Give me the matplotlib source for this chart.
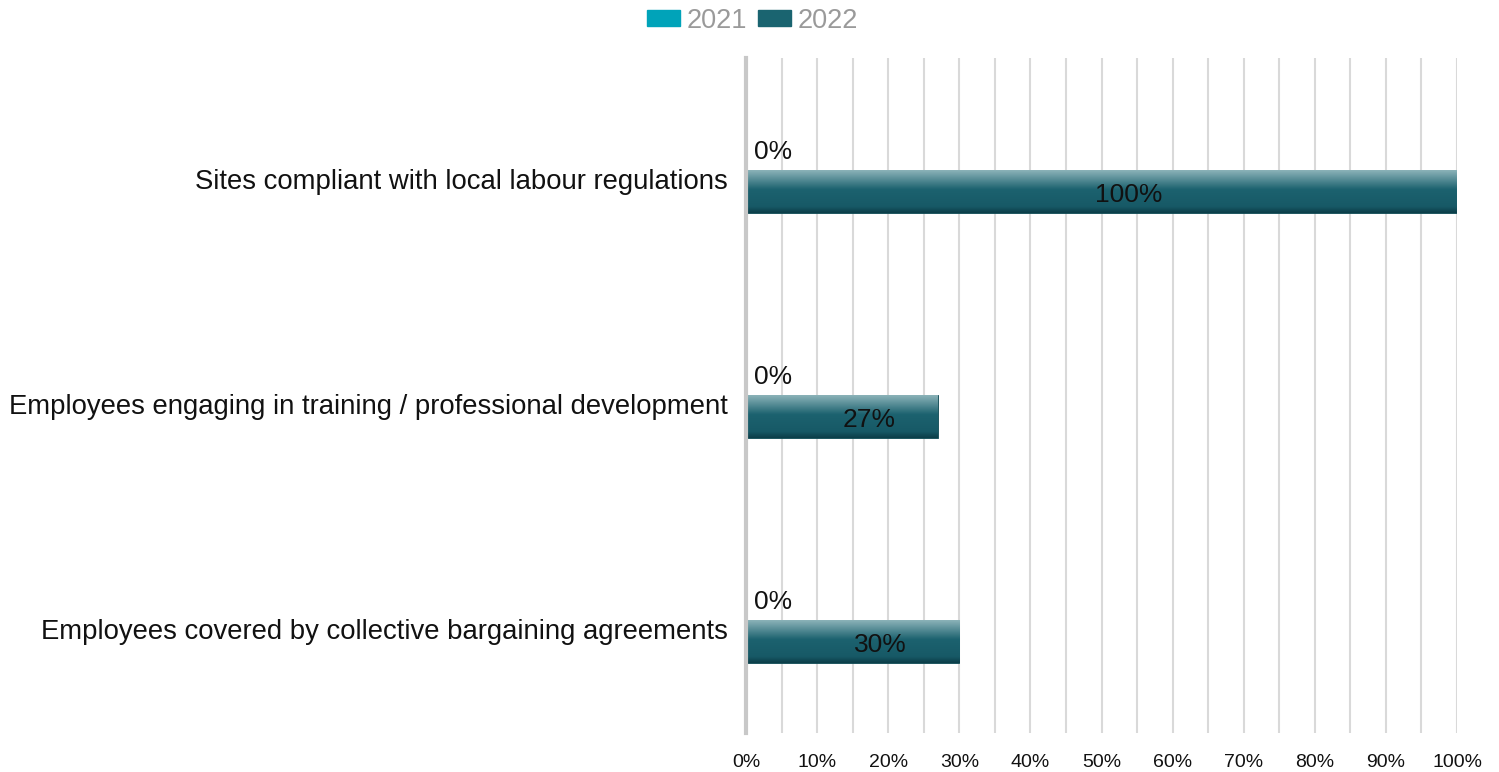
import numpy as np
import matplotlib
matplotlib.use("Agg")
import matplotlib.pyplot as plt
from matplotlib.colors import LinearSegmentedColormap
from matplotlib.ticker import MultipleLocator, FuncFormatter
from matplotlib.transforms import ScaledTranslation

plt.rcParams['font.family'] = ['Liberation Sans', 'DejaVu Sans']

categories = [
    "Sites compliant with local labour regulations",
    "Employees engaging in training / professional development",
    "Employees covered by collective bargaining agreements",
]
series_names = ["2021", "2022"]
values_2021 = [0, 0, 0]
values_2022 = [100, 27, 30]

color_2021 = "#00a3b9"
color_2022 = "#1a6470"
bar_cmap = LinearSegmentedColormap.from_list(
    "teal_grad",
    [(0.0, "#8cb3b9"), (0.45, "#1c626f"), (0.85, "#175966"), (1.0, "#0c3d48")],
)

fig = plt.figure(figsize=(14.99, 7.72), dpi=100)
ax = fig.add_axes([0.4977, 0.0505, 0.9720 - 0.4977, 0.925 - 0.0505])

y = np.arange(len(categories))
h = 0.187

bars21 = ax.barh(y - h / 2, values_2021, height=h, color=color_2021, zorder=3)
bars22 = ax.barh(y + h / 2, values_2022, height=h, color=color_2022,
                 edgecolor="#0e4852", linewidth=0.6, zorder=3)

# vertical gradient fill for the 2022 bars
grad = np.linspace(0, 1, 256).reshape(-1, 1)
for b in bars22:
    x0, y0 = b.get_x(), b.get_y()
    w, hh = b.get_width(), b.get_height()
    im = ax.imshow(grad, cmap=bar_cmap, aspect="auto", zorder=3.5,
                   extent=(x0, x0 + w, y0 + hh, y0), interpolation="bicubic")
    im.set_clip_path(b)

# value labels
for yi, v in zip(y, values_2021):
    ax.annotate(f"{v}%", xy=(v, yi - h / 2), xytext=(5.5, -2),
                textcoords="offset points", ha="left", va="center",
                fontsize=19, color="#111111", zorder=5)
for yi, v in zip(y, values_2022):
    ax.annotate(f"{v}%", xy=(v / 2, yi + h / 2), xytext=(19.8, -2.5),
                textcoords="offset points", ha="center", va="center",
                fontsize=19, color="#111111", zorder=5)

ax.set_xlim(0, 100)
ax.set_ylim(2.5, -0.5)
ax.set_yticks(y)
ax.set_yticklabels(categories, fontsize=19.8, color="#111111")
ax.tick_params(axis="y", length=0, pad=13)
shift = ScaledTranslation(0, -0.09, fig.dpi_scale_trans)
for lab in ax.get_yticklabels():
    lab.set_transform(lab.get_transform() + shift)

ax.xaxis.set_major_locator(MultipleLocator(10))
ax.xaxis.set_minor_locator(MultipleLocator(5))
ax.xaxis.set_major_formatter(FuncFormatter(lambda v, p: f"{int(v)}%"))
ax.tick_params(axis="x", which="both", length=0, labelsize=14, pad=15,
               labelcolor="#111111")
ax.grid(axis="x", which="both", color="#d9d9d9", linewidth=1.5, zorder=0)
ax.set_axisbelow(True)

for s in ["top", "right", "bottom"]:
    ax.spines[s].set_visible(False)
ax.spines["left"].set_color("#c8c8c8")
ax.spines["left"].set_linewidth(3)
ax.spines["left"].set_zorder(6)

handles = [plt.Rectangle((0, 0), 1, 1, color=color_2021),
           plt.Rectangle((0, 0), 1, 1, color=color_2022)]
leg = fig.legend(handles, series_names, loc="center", bbox_to_anchor=(0.502, 0.973),
                 ncol=2, frameon=False, fontsize=19.5, handlelength=1.22,
                 handleheight=0.55, handletextpad=0.26, columnspacing=0.37)
for t in leg.get_texts():
    t.set_color("#9a9a9a")

fig.savefig("out.png", dpi=100)
